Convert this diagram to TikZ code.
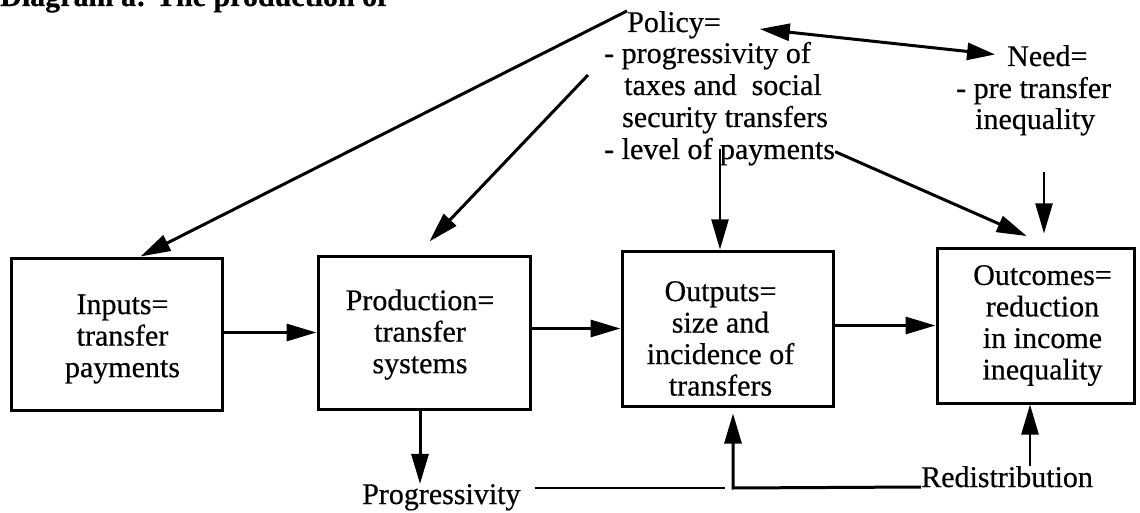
\documentclass[tikz,border=0pt]{standalone}
\usepackage{fontspec}
\setmainfont{Liberation Serif}[FakeBold=0.5]
\usetikzlibrary{arrows.meta}
\begin{document}
\begin{tikzpicture}[x=1pt,y=-1pt,
  font=\fontsize{30}{31.5}\selectfont,
  box/.style={draw,line width=3pt,inner sep=0pt},
  boxtext/.style={align=center,inner sep=0pt},
  tip/.style={-{Triangle[length=30pt,width=17pt]}},
  arr/.style={line width=3pt,tip},
  thinarr/.style={line width=2.2pt,tip},
  dbl/.style={line width=3pt,{Triangle[length=30pt,width=17pt]}-{Triangle[length=28pt,width=17pt]}},
  plain/.style={line width=2.6pt},
  txt/.style={inner sep=0pt,anchor=base west},
]
\useasboundingbox (0,0) rectangle (1140,513);
\clip (0,0) rectangle (1140,513);
\fill[white] (0,0) rectangle (1140,513);

% caption (cut off at the top of the picture, as in the original)
\node[txt] (caption) at (0,6) {\bfseries Diagram a: The production of};

% boxes
\node[box,minimum width=211pt,minimum height=152pt] (inputs) at (116.5,334) {};
\node[box,minimum width=212pt,minimum height=153pt] (production) at (424,332.5) {};
\node[box,minimum width=211pt,minimum height=155pt] (outputs) at (727.5,328.5) {};
\node[box,minimum width=197pt,minimum height=155pt] (outcomes) at (1035.5,325.5) {};

% box texts
\node[boxtext] (inputsT) at ([xshift=6pt,yshift=-5pt]inputs.center) {Inputs=\\transfer\\payments};
\node[boxtext] (productionT) at ([xshift=-4pt,yshift=-2pt]production.center) {Production=\\transfer\\systems};
\node[boxtext] (outputsT) at ([xshift=-7pt,yshift=-10pt]outputs.center) {Outputs=\\size and\\incidence of\\transfers};
\node[boxtext] (outcomesT) at ([xshift=7pt]outcomes.center) {Outcomes=\\reduction\\in income\\inequality};

% policy block
\node[txt] (pol1) at (627,32) {Policy=};
\node[txt] (pol2) at (604,63) {- progressivity of};
\node[txt] (pol3) at (624,95) {taxes and\ \ social};
\node[txt] (pol4) at (622,127) {security transfers};
\node[txt] (pol5) at (604,159) {- level of payments};

% need block
\node[txt] (need1) at (1007,66) {Need=};
\node[txt] (need2) at (956,98) {- pre transfer};
\node[txt] (need3) at (975,129) {inequality};

% bottom labels
\node[txt] (prog) at (362,504) {Progressivity};
\node[txt] (redis) at (921,487) {Redistribution};

% helper coordinates
\coordinate (pd) at (420,0);
\coordinate (pv) at (720,0);
\coordinate (nv) at (1044,0);
\coordinate (rv) at (1030,0);
\coordinate (corner) at (733,488);

% connectors
\draw[dbl, shorten <=39pt, shorten >=12pt] (pol1.east) -- (need1.west);
\draw[arr] (pol1.north west) -- ([xshift=24pt]inputs.north);
\draw[arr, shorten >=18pt] ([xshift=-16pt,yshift=-12pt]pol2.base west) -- ([xshift=-7pt]production.north);
\draw[thinarr, shorten <=11pt] (pv |- pol5.north) -- (pv |- outputs.north);
\draw[arr, shorten >=26pt] (pol5.east) -- ([xshift=15pt]outcomes.north);
\draw[thinarr, shorten <=36pt, shorten >=13pt] (nv |- need3.south) -- (nv |- outcomes.north);

\draw[arr] (production.west -| inputs.east) -- (production.west);
\draw[arr] (outputs.west -| production.east) -- (outputs.west);
\draw[arr] (outcomes.west -| outputs.east) -- (outcomes.west);

\draw[arr] (pd |- production.south) -- (pd |- prog.north);
\draw[plain, shorten <=14pt, shorten >=8pt] (prog.east |- corner) -- (corner);
\draw[arr, shorten >=6pt] (redis.base west) -- (corner) -- (corner |- outputs.south);
\draw[arr, line width=2.5pt] (rv |- redis.north) -- (rv |- outcomes.south);
\end{tikzpicture}
\end{document}
